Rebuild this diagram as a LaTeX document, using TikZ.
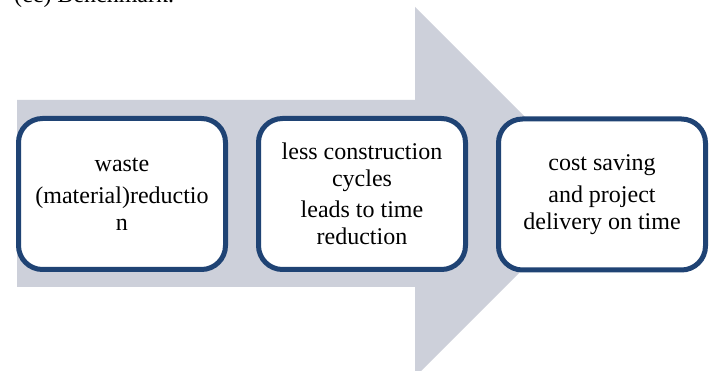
\documentclass[tikz,border=0pt]{standalone}
\usepackage{fontspec}
\setmainfont{Liberation Serif}
\definecolor{arrowgray}{RGB}{205,208,218}
\definecolor{boxblue}{RGB}{31,67,116}
\begin{document}
\begin{tikzpicture}[x=1pt,y=-1pt,
  stagebox/.style={draw=boxblue, line width=5pt, fill=white, rounded corners=24pt,
    minimum width=207pt, minimum height=151pt, inner sep=0pt, align=center,
    text=black, font=\fontsize{24}{26.5}\selectfont},
  captiontext/.style={anchor=base west, inner sep=0pt, font=\fontsize{24}{28}\selectfont}]
\useasboundingbox (0,0) rectangle (710,371);
\clip (0,0) rectangle (710,371);
\fill[white] (0,0) rectangle (710,371);
% caption (cut off at the top of the picture)
\node[captiontext] (cap) at (14,3) {(cc) Benchmark.};
% big arrow
\fill[arrowgray] (17,100) -- (415,100) -- (415,7) -- (600,192) -- (415,377) -- (415,287) -- (17,287) -- cycle;
% stages
\node[stagebox] (s1) at (122,194) {waste\\[6pt](material)reductio\\n};
\node[stagebox] (s2) at (362,194) {less construction\\cycles\\[5pt]leads to time\\reduction};
\node[stagebox] (s3) at (602,194.5) {cost saving\\[6pt]and project\\delivery on time};
\end{tikzpicture}
\end{document}
